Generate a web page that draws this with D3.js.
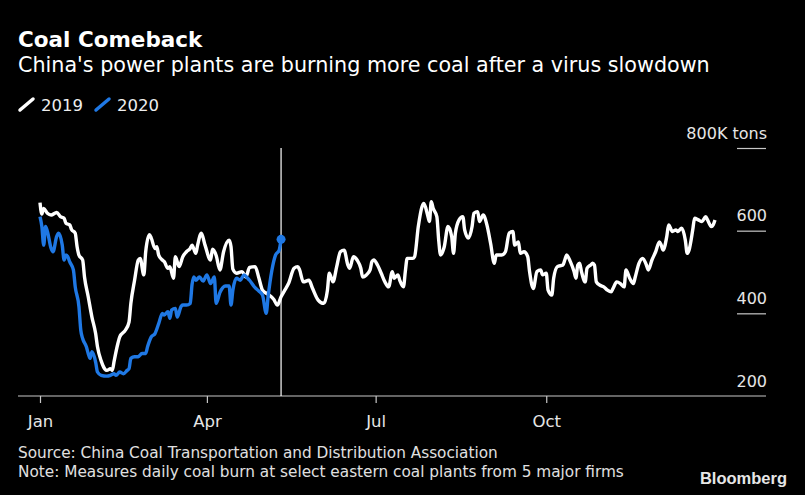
<!DOCTYPE html>
<html>
<head>
<meta charset="utf-8">
<script src="https://cdn.jsdelivr.net/npm/d3@7"></script>
<style>
  html, body { margin: 0; padding: 0; background: #000; }
  svg { display: block; }
  text { font-family: "DejaVu Sans", sans-serif; fill: #fff; }
</style>
</head>
<body>
<svg id="chart" width="805" height="495"></svg>
<script>
var day2019 = [0,1,2,4,6,9,11,13,14,16,17,19,20,21,23,24,26,28,30,31,33,35,36,38,39,40,42,43,46,48,
  49,51,53,54,56,57,59,60,62,63,64,66,67,69,70,72,73,75,77,79,81,82,84,85,87,89,92,93,95,97,
  99,102,103,104,106,109,111,113,116,118,120,123,126,128,130,132,134,137,139,140,142,145,147,150,153,155,156,158,160,162,
  164,166,167,169,171,173,174,176,178,179,180,182,184,186,188,190,191,193,194,196,197,198,201,202,204,206,207,209,210,211,
  212,214,215,216,218,220,222,223,224,226,228,229,231,233,234,236,237,239,241,243,245,246,249,251,253,255,256,258,259,261,
  263,264,266,268,270,271,273,274,276,277,279,282,283,284,286,288,289,290,291,292,294,295,297,298,299,300,302,304,306,308,
  309,311,313,315,316,318,320,321,323,325,327,328,330,332,334,335,336,338,339,341,343,344,346,348,349,350,352,353,355,357,
  359,360,362,363,364];
var burn2019 = [668,640,654,642,638,644,634,630,618,614,603,594,561,541,529,488,440,391,351,319,285,265,262,266,262,285,327,343,359,379,
  424,480,529,533,493,549,590,582,557,561,541,529,525,509,513,485,537,513,537,549,557,565,545,565,594,565,529,555,540,505,
  549,577,561,507,497,501,488,511,513,486,456,446,434,420,440,456,472,509,513,505,476,480,460,432,424,456,497,476,513,549,
  553,517,509,537,529,509,488,493,505,525,529,517,497,476,464,501,485,493,480,464,501,533,533,537,610,658,666,638,622,670,
  654,634,577,541,561,610,586,545,594,626,634,602,582,610,642,646,622,638,614,569,521,541,541,549,594,598,565,573,545,549,
  537,501,460,501,505,493,497,456,444,485,513,517,529,541,525,501,485,517,521,501,476,509,517,521,517,476,468,464,456,452,
  460,476,472,464,505,485,472,488,521,533,517,505,529,549,573,565,553,586,614,598,602,598,606,577,545,553,602,630,626,622,
  634,626,610,614,626];

var day2020 = [0,1,2,3,4,6,7,9,10,12,13,14,15,16,18,19,21,22,23,25,26,27,28,30,31,33,36,38,40,41,
  43,45,47,48,49,51,53,55,57,58,60,62,64,66,67,69,70,71,73,74,76,77,79,81,82,83,84,86,88,90,
  92,94,95,97,100,102,103,104,106,108,110,112,113,116,118,120,122,123,125,127,129,130];
var burn2020 = [634,610,565,610,598,557,549,586,594,565,529,541,537,525,505,464,416,359,339,319,303,291,307,282,258,250,248,250,254,250,
  258,254,262,266,291,295,295,303,303,319,343,351,375,400,396,404,388,408,412,391,416,420,420,424,470,488,480,488,478,493,
  472,488,424,450,466,466,420,456,485,480,493,485,480,462,454,444,400,440,503,541,553,579];

var yTicks = [200, 400, 600, 800];
var monthTicks = ["2019-01-01", "2019-04-01", "2019-07-01", "2019-10-01"];

var WHITE = "#ffffff";
var BLUE = "#1f78e4";

var svg = d3.select("#chart");
var start = new Date(Date.UTC(2019, 0, 1));

var x = d3.scaleUtc()
  .domain([start, new Date(Date.UTC(2019, 11, 31))])
  .range([40, 715]);
var y = d3.scaleLinear().domain([200, 800]).range([396, 148]);

function toPoints(days, vals) {
  return days.map(function(d, i) {
    return { date: d3.utcDay.offset(start, d), value: vals[i] };
  });
}
var s2019 = toPoints(day2019, burn2019);
var s2020 = toPoints(day2020, burn2020);

// titles
svg.append("text").attr("x", 18).attr("y", 47)
  .style("font-size", "21.5px").style("font-weight", "bold")
  .text("Coal Comeback");
svg.append("text").attr("x", 18).attr("y", 72)
  .style("font-size", "20.7px")
  .text("China's power plants are burning more coal after a virus slowdown");

// legend
var legend = [
  { label: "2019", color: WHITE, x: 20 },
  { label: "2020", color: BLUE, x: 96 }
];
var lg = svg.append("g").selectAll("g").data(legend).enter().append("g");
lg.append("line")
  .attr("x1", function(d) { return d.x; }).attr("y1", 110)
  .attr("x2", function(d) { return d.x + 13; }).attr("y2", 99)
  .attr("stroke", function(d) { return d.color; })
  .attr("stroke-width", 3.5).attr("stroke-linecap", "round");
lg.append("text")
  .attr("x", function(d) { return d.x + 21; }).attr("y", 110.5)
  .style("font-size", "16.5px").style("fill", "#eee")
  .text(function(d) { return d.label; });

// y axis (short grid marks at right, labels above them)
var yAxis = svg.append("g").attr("transform", "translate(766,0)")
  .call(d3.axisLeft(y).tickValues(yTicks).tickSize(29)
    .tickFormat(function(d) { return d === 800 ? "800K tons" : d; }));
yAxis.select(".domain").remove();
yAxis.selectAll(".tick line").attr("stroke", "#c8c8c8").attr("stroke-width", 1.2);
yAxis.selectAll(".tick text")
  .attr("x", 1).attr("dy", -10).attr("text-anchor", "end")
  .style("font-size", "16px").style("fill", "#e6e6e6").style("font-family", "DejaVu Sans");
yAxis.selectAll(".tick").filter(function(d) { return d === 200; }).select("line").remove();

// baseline
svg.append("line")
  .attr("x1", 18).attr("x2", 766).attr("y1", y(200)).attr("y2", y(200))
  .attr("stroke", "#c8c8c8").attr("stroke-width", 1.2);

// x axis
var xAxis = svg.append("g").attr("transform", "translate(0," + y(200) + ")")
  .call(d3.axisBottom(x)
    .tickValues(monthTicks.map(function(s) { return new Date(s + "T00:00:00Z"); }))
    .tickSize(7).tickPadding(12)
    .tickFormat(d3.utcFormat("%b")));
xAxis.select(".domain").remove();
xAxis.selectAll(".tick line").attr("stroke", "#c8c8c8").attr("stroke-width", 1.2);
xAxis.selectAll(".tick text")
  .style("font-size", "16.5px").style("fill", "#e6e6e6").style("font-family", "DejaVu Sans");

// marker for the latest 2020 reading
var last = s2020[s2020.length - 1];
svg.append("line")
  .attr("x1", x(last.date)).attr("x2", x(last.date))
  .attr("y1", y(800)).attr("y2", y(200))
  .attr("stroke", "#fff").attr("stroke-width", 1.2);

var line = d3.line()
  .x(function(d) { return x(d.date); })
  .y(function(d) { return y(d.value); })
  .curve(d3.curveMonotoneX);

svg.append("path").datum(s2019)
  .attr("fill", "none").attr("stroke", WHITE).attr("stroke-width", 3.4)
  .attr("stroke-linejoin", "round").attr("d", line);
svg.append("path").datum(s2020)
  .attr("fill", "none").attr("stroke", BLUE).attr("stroke-width", 3.4)
  .attr("stroke-linejoin", "round").attr("d", line);
svg.append("circle")
  .attr("cx", x(last.date)).attr("cy", y(last.value)).attr("r", 4.5)
  .attr("fill", BLUE);

// footer
svg.append("text").attr("x", 18).attr("y", 458)
  .style("font-size", "15.3px").style("fill", "#e0e0e0")
  .text("Source: China Coal Transportation and Distribution Association");
svg.append("text").attr("x", 18).attr("y", 477)
  .style("font-size", "15.3px").style("fill", "#e0e0e0")
  .text("Note: Measures daily coal burn at select eastern coal plants from 5 major firms");
svg.append("text").attr("x", 787).attr("y", 484).attr("text-anchor", "end")
  .style("font-family", "'Liberation Sans', Arial, sans-serif")
  .style("font-size", "16.5px").style("font-weight", "bold").style("fill", "#e6e6e6")
  .text("Bloomberg");
</script>
</body>
</html>
